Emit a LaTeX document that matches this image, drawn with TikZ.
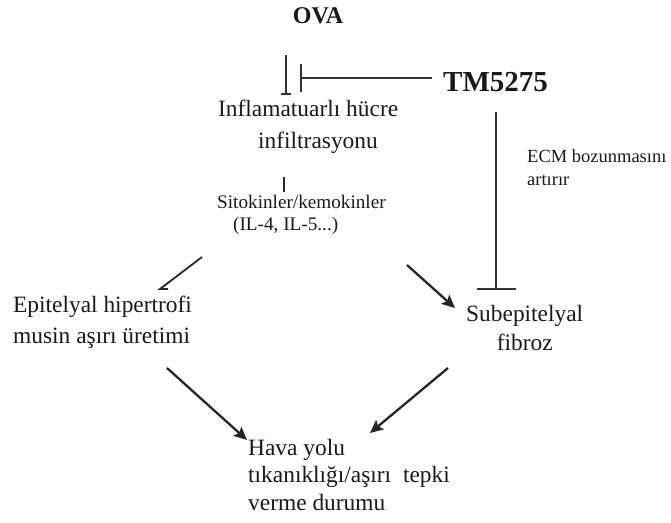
\documentclass[tikz,border=0pt]{standalone}
\usepackage{fontspec}
\setmainfont{Liberation Serif}
\usetikzlibrary{arrows.meta}
\begin{document}
\begin{tikzpicture}[x=1pt,y=-1pt,
  txt/.style={inner sep=0pt, anchor=base west, align=left, text=black!90},
  big/.style={font=\fontsize{23.4}{32}\selectfont},
  small/.style={font=\fontsize{19.2}{22}\selectfont},
  con/.style={draw=black!85, line width=2.3pt},
  arr/.style={con, -{Stealth[length=13pt,width=12pt,inset=2.5pt]}},
  inh/.style={draw=black!80, line width=1.8pt}
]
\useasboundingbox (0,0) rectangle (671,522);
% texts (base anchor = baseline of last line)
\node[txt, anchor=base, font=\bfseries\fontsize{24}{28}\selectfont] (ova) at (318,23) {OVA};
\node[txt, font=\bfseries\fontsize{29}{32}\selectfont] (tm) at (443,91) {TM5275};
\node[txt, big] (inf) at (218,148) {Inflamatuarlı hücre\\\hspace*{40pt}infiltrasyonu};
\node[txt, small] (cyt) at (217,230) {Sitokinler/kemokinler\\\hspace*{16pt}(IL-4, IL-5...)};
\node[txt, font=\fontsize{23.4}{31}\selectfont] (epi) at (13,343) {Epitelyal hipertrofi\\musin aşırı üretimi};
\node[txt, align=center, font=\fontsize{23.4}{29}\selectfont] (sub) at (466,350) {Subepitelyal\\fibroz};
\node[txt, font=\fontsize{23.4}{27.5}\selectfont] (hava) at (248,510) {Hava yolu\\tıkanıklığı/aşırı\hspace{6pt} tepki\\verme durumu};
\node[txt, font=\fontsize{18.5}{23}\selectfont] (ecm) at (527,185) {ECM bozunmasını\\artırır};
% anchor coordinates
\coordinate (ovaS) at (286,55);
\coordinate (infN) at (286,95);
\coordinate (tmW) at (432,78);
\coordinate (infR) at (300,78);
\coordinate (infS) at (284,177);
\coordinate (cytN) at (284,192);
\coordinate (cytL) at (202,257);
\coordinate (epiN) at (160,289);
\coordinate (cytR) at (407,265);
\coordinate (subW) at (455,308);
\coordinate (epiS) at (167,368);
\coordinate (havaL) at (247,440);
\coordinate (subS) at (448,368);
\coordinate (havaR) at (370,433);
\coordinate (tmS) at (496,112);
\coordinate (subN) at (496,290);
% connectors
\draw[inh, -{Bar[width=10pt]}] (ovaS) -- (infN);
\draw[inh, -{Bar[width=28pt]}] (tmW) -- (infR);
\draw[con, line width=1.8pt] (infS) -- (cytN);
\draw[con, line width=1.8pt] (cytL) -- (epiN) -- ++(8,0);
\draw[arr] (cytR) -- (subW);
\draw[arr] (epiS) -- (havaL);
\draw[arr] (subS) -- (havaR);
\draw[inh, -{Bar[width=39pt]}] (tmS) -- (subN);
\end{tikzpicture}
\end{document}
